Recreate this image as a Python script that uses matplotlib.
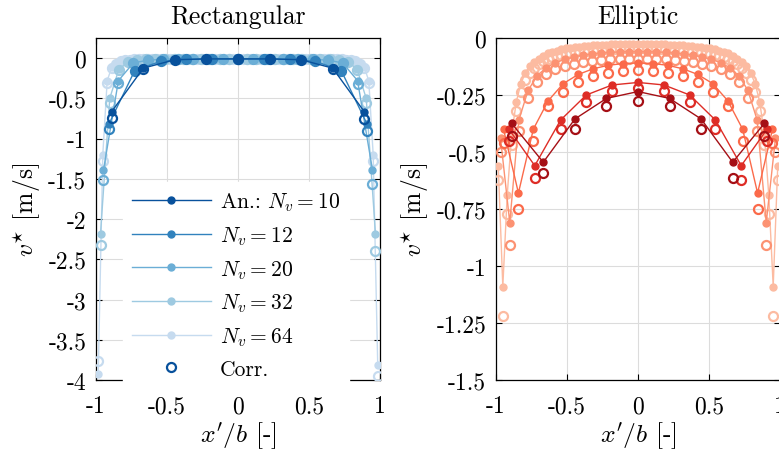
import matplotlib
matplotlib.use("Agg")
import matplotlib.pyplot as plt

plt.rcParams["font.family"] = "serif"
plt.rcParams["font.serif"] = ["cmr10"]
plt.rcParams["mathtext.fontset"] = "cm"
plt.rcParams["axes.unicode_minus"] = False
plt.rcParams["axes.formatter.use_mathtext"] = True

# spanwise control point positions x'/b
x10 = [-0.889, -0.667, -0.444, -0.222, 0.0, 0.222, 0.444, 0.667, 0.889]
x12 = [-0.909, -0.727, -0.545, -0.364, -0.182, 0.0, 0.182, 0.364, 0.545, 0.727, 0.909]
x20 = [-0.947, -0.842, -0.737, -0.632, -0.526, -0.421, -0.316, -0.211, -0.105, 0.0,
       0.105, 0.211, 0.316, 0.421, 0.526, 0.632, 0.737, 0.842, 0.947]
x32 = [-0.968, -0.903, -0.839, -0.774, -0.710, -0.645, -0.581, -0.516, -0.452, -0.387,
       -0.323, -0.258, -0.194, -0.129, -0.065, 0.0, 0.065, 0.129, 0.194, 0.258, 0.323,
       0.387, 0.452, 0.516, 0.581, 0.645, 0.710, 0.774, 0.839, 0.903, 0.968]
x64 = [-0.984, -0.952, -0.921, -0.889, -0.857, -0.825, -0.794, -0.762, -0.730, -0.698,
       -0.667, -0.635, -0.603, -0.571, -0.540, -0.508, -0.476, -0.444, -0.413, -0.381,
       -0.349, -0.317, -0.286, -0.254, -0.222, -0.190, -0.159, -0.127, -0.095, -0.063,
       -0.032, 0.0, 0.032, 0.063, 0.095, 0.127, 0.159, 0.190, 0.222, 0.254, 0.286, 0.317,
       0.349, 0.381, 0.413, 0.444, 0.476, 0.508, 0.540, 0.571, 0.603, 0.635, 0.667, 0.698,
       0.730, 0.762, 0.794, 0.825, 0.857, 0.889, 0.921, 0.952, 0.984]

# rectangular wing: analytical and corrected v*
rect_an_10 = [-0.665, -0.125, -0.02, -0.01, -0.01, -0.01, -0.02, -0.125, -0.665]
rect_co_10 = [-0.74, -0.13, -0.02, -0.01, -0.01, -0.01, -0.02, -0.13, -0.76]
rect_an_12 = [-0.82, -0.155, -0.04, -0.015, -0.01, -0.01, -0.01, -0.015, -0.04, -0.155, -0.82]
rect_co_12 = [-0.88, -0.16, -0.04, -0.015, -0.01, -0.01, -0.01, -0.015, -0.04, -0.16, -0.90]
rect_an_20 = [-1.39, -0.28, -0.06, -0.025, -0.015, -0.01, -0.008, -0.008, -0.008, -0.008,
              -0.008, -0.008, -0.008, -0.01, -0.015, -0.025, -0.06, -0.28, -1.39]
rect_co_20 = [-1.52, -0.31, -0.065, -0.025, -0.015, -0.01, -0.008, -0.008, -0.008, -0.008,
              -0.008, -0.008, -0.008, -0.01, -0.015, -0.025, -0.065, -0.32, -1.56]
rect_an_32 = [-2.18, -0.50, -0.14, -0.045, -0.02, -0.012, -0.009, -0.007, -0.006, -0.005,
              -0.005, -0.005, -0.005, -0.005, -0.005, -0.005, -0.005, -0.005, -0.005, -0.005,
              -0.005, -0.005, -0.006, -0.007, -0.009, -0.012, -0.02, -0.045, -0.14, -0.50, -2.18]
rect_co_32 = [-2.32, -0.56, -0.15, -0.048, -0.021, -0.012, -0.009, -0.007, -0.006, -0.005,
              -0.005, -0.005, -0.005, -0.005, -0.005, -0.005, -0.005, -0.005, -0.005, -0.005,
              -0.005, -0.005, -0.006, -0.007, -0.009, -0.012, -0.021, -0.048, -0.15, -0.56, -2.40]
rect_an_64 = [-3.92, -1.20, -0.28, -0.115, -0.063, -0.04, -0.028, -0.021, -0.017, -0.014,
              -0.012, -0.01, -0.009, -0.008, -0.007, -0.006, -0.005, -0.005, -0.005, -0.005,
              -0.005, -0.005, -0.005, -0.005, -0.005, -0.005, -0.005, -0.005, -0.005, -0.005,
              -0.005, -0.005, -0.005, -0.005, -0.005, -0.005, -0.005, -0.005, -0.005, -0.005,
              -0.005, -0.005, -0.005, -0.005, -0.005, -0.005, -0.005, -0.006, -0.007, -0.008,
              -0.009, -0.01, -0.012, -0.014, -0.017, -0.021, -0.028, -0.04, -0.063, -0.115,
              -0.28, -1.20, -3.81]
rect_co_64 = [-3.76, -1.28, -0.31, -0.125, -0.068, -0.042, -0.028, -0.021, -0.017, -0.014,
              -0.012, -0.01, -0.009, -0.008, -0.007, -0.006, -0.005, -0.005, -0.005, -0.005,
              -0.005, -0.005, -0.005, -0.005, -0.005, -0.005, -0.005, -0.005, -0.005, -0.005,
              -0.005, -0.005, -0.005, -0.005, -0.005, -0.005, -0.005, -0.005, -0.005, -0.005,
              -0.005, -0.005, -0.005, -0.005, -0.005, -0.005, -0.005, -0.006, -0.007, -0.008,
              -0.009, -0.01, -0.012, -0.014, -0.017, -0.021, -0.028, -0.042, -0.068, -0.125,
              -0.31, -1.28, -3.95]

# elliptic wing: analytical and corrected v*
ell_an_10 = [-0.375, -0.545, -0.355, -0.265, -0.235, -0.265, -0.355, -0.545, -0.375]
ell_co_10 = [-0.43, -0.59, -0.40, -0.30, -0.275, -0.30, -0.40, -0.615, -0.43]
ell_an_12 = [-0.40, -0.56, -0.36, -0.25, -0.206, -0.195, -0.206, -0.25, -0.36, -0.56, -0.40]
ell_co_12 = [-0.45, -0.615, -0.40, -0.28, -0.234, -0.22, -0.234, -0.28, -0.40, -0.625, -0.45]
ell_an_20 = [-0.40, -0.68, -0.40, -0.275, -0.20, -0.16, -0.135, -0.12, -0.112, -0.11,
             -0.112, -0.12, -0.135, -0.16, -0.20, -0.275, -0.40, -0.68, -0.40]
ell_co_20 = [-0.46, -0.75, -0.45, -0.30, -0.235, -0.195, -0.168, -0.152, -0.143, -0.14,
             -0.143, -0.152, -0.168, -0.195, -0.235, -0.30, -0.45, -0.75, -0.46]
ell_an_32 = [-0.44, -0.81, -0.36, -0.23, -0.165, -0.13, -0.108, -0.094, -0.083, -0.075,
             -0.07, -0.066, -0.063, -0.061, -0.06, -0.06, -0.06, -0.061, -0.063, -0.066,
             -0.07, -0.075, -0.083, -0.094, -0.108, -0.13, -0.165, -0.23, -0.36, -0.81, -0.44]
ell_co_32 = [-0.50, -0.91, -0.41, -0.265, -0.195, -0.16, -0.138, -0.124, -0.113, -0.105,
             -0.10, -0.096, -0.093, -0.091, -0.09, -0.09, -0.09, -0.091, -0.093, -0.096,
             -0.10, -0.105, -0.113, -0.124, -0.138, -0.16, -0.195, -0.265, -0.41, -0.91, -0.50]
ell_an_64 = [-0.56, -1.09, -0.69, -0.42, -0.28, -0.20, -0.155, -0.125, -0.105, -0.09,
             -0.078, -0.068, -0.061, -0.055, -0.05, -0.046, -0.043, -0.04, -0.038, -0.036,
             -0.034, -0.032, -0.031, -0.03, -0.029, -0.028, -0.027, -0.026, -0.026, -0.025,
             -0.025, -0.025, -0.025, -0.025, -0.026, -0.026, -0.027, -0.028, -0.029, -0.03,
             -0.031, -0.032, -0.034, -0.036, -0.038, -0.04, -0.043, -0.046, -0.05, -0.055,
             -0.061, -0.068, -0.078, -0.09, -0.105, -0.125, -0.155, -0.20, -0.28, -0.42,
             -0.69, -1.09, -0.56]
ell_co_64 = [-0.625, -1.22, -0.77, -0.47, -0.32, -0.235, -0.185, -0.155, -0.13, -0.115,
             -0.102, -0.092, -0.084, -0.078, -0.073, -0.069, -0.065, -0.062, -0.059, -0.057,
             -0.055, -0.053, -0.051, -0.05, -0.049, -0.048, -0.047, -0.046, -0.046, -0.045,
             -0.045, -0.045, -0.045, -0.045, -0.046, -0.046, -0.047, -0.048, -0.049, -0.05,
             -0.051, -0.053, -0.055, -0.057, -0.059, -0.062, -0.065, -0.069, -0.073, -0.078,
             -0.084, -0.092, -0.102, -0.115, -0.13, -0.155, -0.185, -0.235, -0.32, -0.47,
             -0.77, -1.22, -0.625]

n_vortices = [10, 12, 20, 32, 64]
xs = [x10, x12, x20, x32, x64]
rect_an = [rect_an_10, rect_an_12, rect_an_20, rect_an_32, rect_an_64]
rect_co = [rect_co_10, rect_co_12, rect_co_20, rect_co_32, rect_co_64]
ell_an = [ell_an_10, ell_an_12, ell_an_20, ell_an_32, ell_an_64]
ell_co = [ell_co_10, ell_co_12, ell_co_20, ell_co_32, ell_co_64]

blues = ["#08519c", "#3182bd", "#6baed6", "#9ecae1", "#c6dbef"]
reds = ["#a50f15", "#de2d26", "#fb6a4a", "#fc9272", "#fcbba1"]

x_ticks = [-1, -0.5, 0, 0.5, 1]
x_ticklabels = ["-1", "-0.5", "0", "0.5", "1"]
rect_yticks = [0, -0.5, -1, -1.5, -2, -2.5, -3, -3.5, -4]
rect_yticklabels = ["0", "-0.5", "-1", "-1.5", "-2", "-2.5", "-3", "-3.5", "-4"]
ell_yticks = [0, -0.25, -0.5, -0.75, -1, -1.25, -1.5]
ell_yticklabels = ["0", "-0.25", "-0.5", "-0.75", "-1", "-1.25", "-1.5"]

fig = plt.figure(figsize=(7.79, 4.56), dpi=100)
ax1 = fig.add_axes([0.1232, 0.1645, 0.3646, 0.75])
ax2 = fig.add_axes([0.6367, 0.1645, 0.3646, 0.75])


def draw_panel(ax, an, co, colors):
    handles = []
    for i in range(len(n_vortices)):
        z = 10 - i
        h, = ax.plot(xs[i], an[i], "-o", color=colors[i], lw=1.0, ms=5,
                     zorder=z + 0.5)
        c, = ax.plot(xs[i], co[i], "o", mfc="none", mec=colors[i], ms=6.5,
                     mew=1.6, zorder=z)
        handles.append((h, c))
    return handles


def style(ax, title, yticks, yticklabels, ylim):
    ax.set_xlim(-1, 1)
    ax.set_ylim(*ylim)
    ax.set_xticks(x_ticks)
    ax.set_xticklabels(x_ticklabels)
    ax.set_yticks(yticks)
    ax.set_yticklabels(yticklabels)
    ax.tick_params(direction="in", top=True, right=True, length=4, width=0.8,
                   labelsize=17, pad=7)
    ax.tick_params(axis="x", pad=11)
    ax.grid(True, color="#dcdcdc", lw=0.8)
    ax.set_axisbelow(True)
    for s in ax.spines.values():
        s.set_linewidth(0.9)
    ax.set_title(title, fontsize=18.5, pad=11)
    ax.set_xlabel(r"$x'/b$ [-]", fontsize=18.5, labelpad=2)
    ax.set_ylabel(r"$v^{\star}$ [m/s]", fontsize=18.5, labelpad=4)


hs = draw_panel(ax1, rect_an, rect_co, blues)
draw_panel(ax2, ell_an, ell_co, reds)
style(ax1, "Rectangular", rect_yticks, rect_yticklabels, (-4, 0.25))
style(ax2, "Elliptic", ell_yticks, ell_yticklabels, (-1.5, 0))

labels = [r"An.: $N_v = 10$"] + [r"$N_v = %d$" % n for n in n_vortices[1:]] + ["Corr."]
handles = [h for h, c in hs] + [hs[0][1]]
leg = ax1.legend(handles, labels, loc="upper left", bbox_to_anchor=(0.095, 0.58),
                 fontsize=15.5, frameon=True, fancybox=False, edgecolor="white",
                 facecolor="white", framealpha=1, borderaxespad=0, borderpad=0.4,
                 handlelength=3.7, handletextpad=0.4, labelspacing=0.52)
leg.set_zorder(20)

fig.savefig("out.png", dpi=100)
